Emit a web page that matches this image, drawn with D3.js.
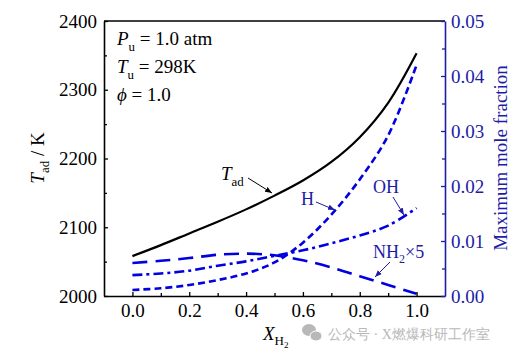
<html lang="en">
<head>
<style>
body { margin: 0; background: #fff; }
svg text { font-family: "Liberation Serif", "Times New Roman", serif; }
</style>
</head>
<body>
<script type='text/javascript' src='https://d3js.org/d3.v7.min.js'></script>
<script>
// mole fraction of H2 in the fuel
const xH2 = [0.0, 0.1, 0.2, 0.3, 0.4, 0.5, 0.6, 0.7, 0.8, 0.9, 1.0];
// adiabatic flame temperature (K), left axis
const tad = [2058, 2074, 2091, 2108, 2126, 2146, 2168, 2195, 2231, 2281, 2353];
// maximum mole fractions, right axis
const molH = [0.0011, 0.0014, 0.0020, 0.0029, 0.0041, 0.0061, 0.0097, 0.0148, 0.0212, 0.0292, 0.0420];
const molOH = [0.0038, 0.0041, 0.0046, 0.0055, 0.0063, 0.0073, 0.0083, 0.0096, 0.0110, 0.0128, 0.0160];
const molNH2x5 = [0.0060, 0.0064, 0.0069, 0.0075, 0.0077, 0.0074, 0.0065, 0.0052, 0.0036, 0.0020, 0.0004];

const xTicks = [0.0, 0.2, 0.4, 0.6, 0.8, 1.0];
const xMinor = [0.1, 0.3, 0.5, 0.7, 0.9];
const yLTicks = [2000, 2100, 2200, 2300, 2400];
const yLMinor = [2050, 2150, 2250, 2350];
const yRTicks = [0.00, 0.01, 0.02, 0.03, 0.04, 0.05];
const yRMinor = [0.005, 0.015, 0.025, 0.035, 0.045];

const black = "#000";
const blueAxis = "#1c1ca6";
const blueLine = "#0000e0";
const serif = '"Liberation Serif", "Times New Roman", serif';

const margin = {top: 21, right: 75, bottom: 57, left: 104};
const width = 520 - margin.left - margin.right;
const height = 353 - margin.top - margin.bottom;

var root = d3.select('body')
.append("svg")
.attr("width", 520)
.attr("height", 353)
.attr("font-family", serif);

var svg = root.append("g")
.attr("transform", "translate(" + margin.left + "," + margin.top + ")");

var x = d3.scaleLinear().domain([-0.1, 1.1]).range([0, width]);
var yL = d3.scaleLinear().domain([2000, 2400]).range([height, 0]);
var yR = d3.scaleLinear().domain([0, 0.05]).range([height, 0]);

// arrow marker
root.append("defs").selectAll("marker")
.data([["arrBlack", black], ["arrBlue", blueAxis]])
.enter().append("marker")
.attr("id", d => d[0])
.attr("viewBox", "0 0 10 10")
.attr("refX", 10).attr("refY", 5)
.attr("markerWidth", 7).attr("markerHeight", 7)
.attr("markerUnits", "userSpaceOnUse")
.attr("orient", "auto")
.append("path")
.attr("d", "M0,1 L10,5 L0,9 Z")
.attr("fill", d => d[1]);

// curves
var lineL = d3.line().x((d, i) => x(xH2[i])).y(d => yL(d)).curve(d3.curveCatmullRom);
var lineR = d3.line().x((d, i) => x(xH2[i])).y(d => yR(d)).curve(d3.curveCatmullRom);

svg.append("path").datum(tad)
.attr("d", lineL)
.attr("fill", "none").attr("stroke", black).attr("stroke-width", 2.2);

var series = [
  {vals: molH, dash: "7,4"},
  {vals: molOH, dash: "10,4,3,4"},
  {vals: molNH2x5, dash: "15,8"}
];
svg.selectAll(".mol").data(series).enter()
.append("path")
.attr("class", "mol")
.attr("d", d => lineR(d.vals))
.attr("fill", "none")
.attr("stroke", blueLine)
.attr("stroke-width", 2.6)
.attr("stroke-dasharray", d => d.dash);

// axes
function styleAxis(g, color, showDomain) {
  g.attr("font-family", serif);
  g.selectAll("text").attr("font-size", 19).attr("fill", color);
  g.selectAll("line").attr("stroke", color).attr("stroke-width", 1.3);
  g.select(".domain").attr("stroke", color).attr("stroke-width", 1.6);
  if (!showDomain) g.select(".domain").remove();
}

svg.append("g")
.attr("transform", "translate(0," + height + ")")
.call(d3.axisBottom(x).tickValues(xTicks).tickSize(-4).tickSizeOuter(0).tickPadding(8).tickFormat(d3.format(".1f")))
.call(g => styleAxis(g, black, true));
svg.append("g")
.attr("transform", "translate(0," + height + ")")
.call(d3.axisBottom(x).tickValues(xMinor).tickSize(-3).tickFormat(""))
.call(g => styleAxis(g, black, false));

svg.append("g")
.call(d3.axisLeft(yL).tickValues(yLTicks).tickSize(-4).tickSizeOuter(0).tickPadding(7).tickFormat(d3.format("d")))
.call(g => styleAxis(g, black, true));
svg.append("g")
.call(d3.axisLeft(yL).tickValues(yLMinor).tickSize(-3).tickFormat(""))
.call(g => styleAxis(g, black, false));

// top frame line
svg.append("line")
.attr("x1", 0).attr("x2", width).attr("y1", 0).attr("y2", 0)
.attr("stroke", black).attr("stroke-width", 1.6);

svg.append("g")
.attr("transform", "translate(" + width + ",0)")
.call(d3.axisRight(yR).tickValues(yRTicks).tickSize(-4).tickSizeOuter(0).tickPadding(6).tickFormat(d3.format(".2f")))
.call(g => styleAxis(g, blueAxis, true));
svg.append("g")
.attr("transform", "translate(" + width + ",0)")
.call(d3.axisRight(yR).tickValues(yRMinor).tickSize(-3).tickFormat(""))
.call(g => styleAxis(g, blueAxis, false));

// helper: italic symbol with subscript
function symText(parent, px, py, main, sub, color, size, rest) {
  var t = parent.append("text").attr("x", px).attr("y", py)
    .attr("font-size", size).attr("fill", color);
  t.append("tspan").attr("font-style", "italic").text(main);
  t.append("tspan").attr("font-size", size * 0.68).attr("dy", size * 0.3).text(sub);
  if (rest) t.append("tspan").attr("dy", -size * 0.3).text(rest);
  return t;
}

// condition box
symText(root, 117, 45, "P", "u", black, 19, " = 1.0 atm");
symText(root, 117, 73, "T", "u", black, 19, " = 298K");
root.append("text").attr("x", 117).attr("y", 101).attr("font-size", 19)
.html('<tspan font-style="italic">\u03d5</tspan> = 1.0');

// axis titles
var yt = root.append("text")
.attr("transform", "translate(44,158) rotate(-90)")
.attr("text-anchor", "middle").attr("font-size", 19).attr("fill", black);
yt.append("tspan").attr("font-style", "italic").text("T");
yt.append("tspan").attr("font-size", 13).attr("dy", 5).text("ad");
yt.append("tspan").attr("dy", -5).text(" / K");

root.append("text")
.attr("transform", "translate(507,158) rotate(-90)")
.attr("text-anchor", "middle").attr("font-size", 19).attr("fill", blueAxis)
.text("Maximum mole fraction");

var xt = root.append("text").attr("x", 263).attr("y", 340).attr("font-size", 19).attr("fill", black);
xt.append("tspan").attr("font-style", "italic").text("X");
xt.append("tspan").attr("font-size", 13).attr("dy", 5).text("H");
xt.append("tspan").attr("font-size", 9).attr("dy", 3).text("2");

// curve labels with arrows
symText(root, 221, 180, "T", "ad", black, 19);
root.append("line").attr("x1", 248).attr("y1", 178).attr("x2", 272).attr("y2", 193)
.attr("stroke", black).attr("stroke-width", 1).attr("marker-end", "url(#arrBlack)");

root.append("text").attr("x", 301).attr("y", 205).attr("font-size", 18).attr("fill", blueAxis).text("H");
root.append("line").attr("x1", 316).attr("y1", 202).attr("x2", 335).attr("y2", 210)
.attr("stroke", blueAxis).attr("stroke-width", 1).attr("marker-end", "url(#arrBlue)");

root.append("text").attr("x", 373).attr("y", 193).attr("font-size", 18).attr("fill", blueAxis).text("OH");
root.append("line").attr("x1", 393).attr("y1", 197).attr("x2", 404).attr("y2", 215)
.attr("stroke", blueAxis).attr("stroke-width", 1).attr("marker-end", "url(#arrBlue)");

var nh = root.append("text").attr("x", 373).attr("y", 258).attr("font-size", 18).attr("fill", blueAxis);
nh.append("tspan").text("NH");
nh.append("tspan").attr("font-size", 12).attr("dy", 5).text("2");
nh.append("tspan").attr("dy", -5).text("\u00d75");
root.append("line").attr("x1", 390).attr("y1", 262).attr("x2", 375).attr("y2", 277)
.attr("stroke", blueAxis).attr("stroke-width", 1).attr("marker-end", "url(#arrBlue)");

// watermark
var wm = root.append("g").attr("fill", "#b8b8b8");
wm.append("ellipse").attr("cx", 309).attr("cy", 330).attr("rx", 7).attr("ry", 6);
wm.append("ellipse").attr("cx", 316).attr("cy", 336).attr("rx", 6).attr("ry", 5).attr("stroke", "#fff").attr("stroke-width", 1);
wm.append("text").attr("x", 328).attr("y", 339).attr("font-size", 14)
.attr("font-family", '"Noto Sans CJK SC", sans-serif')
.text("公众号 · X燃爆科研工作室");
</script>
</body>
</html>
